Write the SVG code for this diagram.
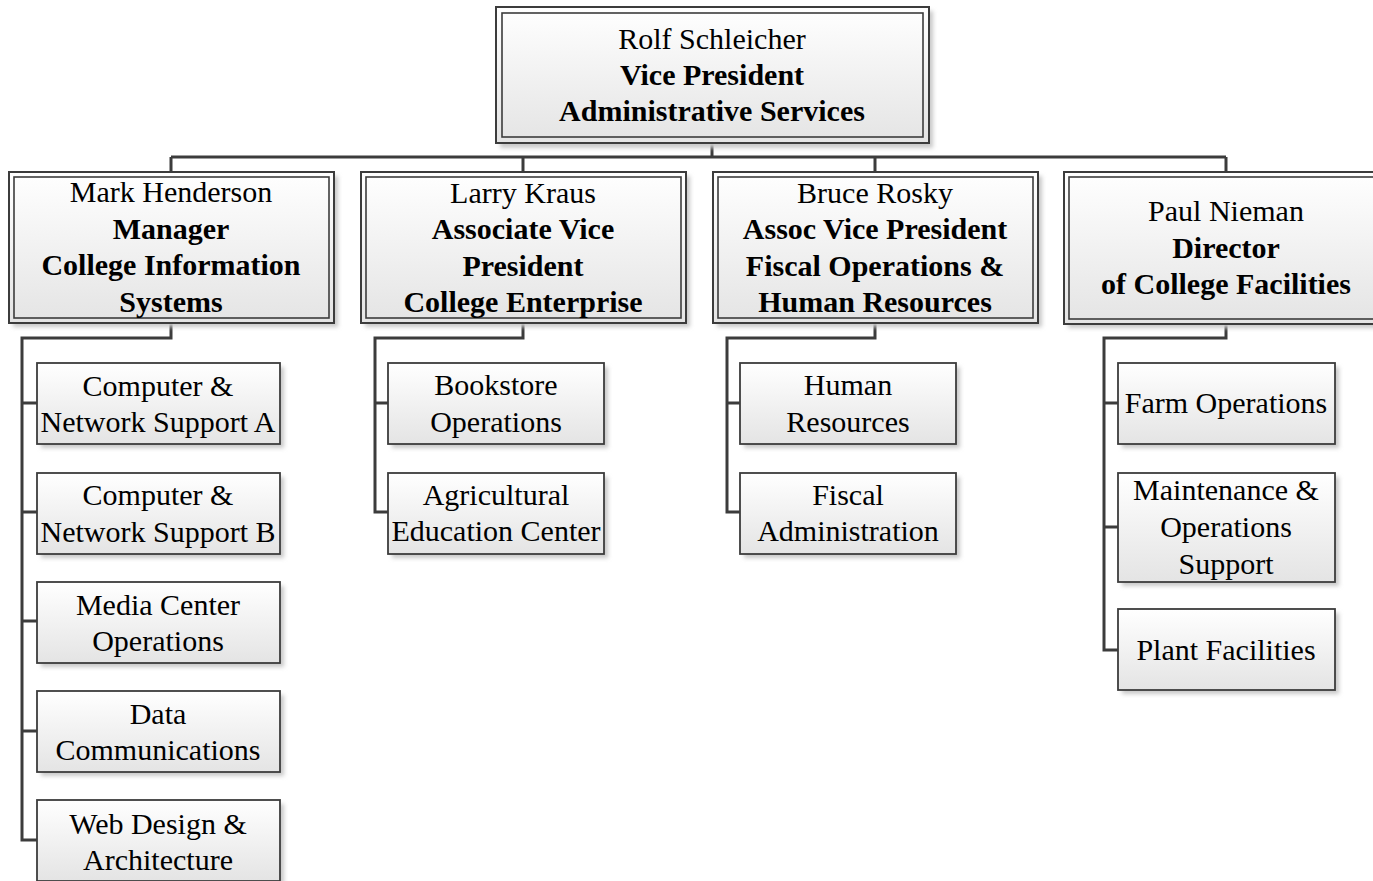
<svg xmlns="http://www.w3.org/2000/svg" width="1373" height="881" viewBox="0 0 1373 881">
<defs>
<linearGradient id="g" x1="0" y1="0" x2="0" y2="1">
<stop offset="0" stop-color="#ffffff"/>
<stop offset="1" stop-color="#e4e4e4"/>
</linearGradient>
<filter id="blur" x="-10%" y="-10%" width="120%" height="120%">
<feGaussianBlur stdDeviation="2"/>
</filter>
</defs>
<style>
.sh{fill:#c8c8c8;filter:url(#blur)}
.o{fill:url(#g);stroke:#3c3c3c;stroke-width:2}
.i{fill:none;stroke:#3c3c3c;stroke-width:1.6}
.b{fill:url(#g);stroke:#3c3c3c;stroke-width:1.8}
.c{fill:none;stroke:#3c3c3c;stroke-width:3}
</style>
<rect width="1373" height="881" fill="#fff"/>
<g id="connectors">
<path class="c" d="M712 143V157M171 157H1226M171 157V173M523 157V173M875 157V173M1226 157V173"/>
<path class="c" d="M171 322V338H22V840H37M22 403H37M22 512H37M22 621H37M22 731H37"/>
<path class="c" d="M523 322V338H375V512H388M375 403H388"/>
<path class="c" d="M875 322V338H727V512H740M727 403H740"/>
<path class="c" d="M1226 324V338H1104V650H1118M1104 403H1118M1104 527H1118"/>
</g>
<g id="n-top">
<rect class="sh" x="500" y="11" width="433" height="137"/>
<rect class="o" x="496" y="7" width="433" height="136"/>
<rect class="i" x="502" y="13" width="421" height="124"/>
<text x="712" y="49" font-family="Liberation Serif" font-size="30" text-anchor="middle">Rolf Schleicher</text>
<text x="712" y="85" font-family="Liberation Serif" font-size="30" text-anchor="middle" font-weight="bold">Vice President</text>
<text x="712" y="121" font-family="Liberation Serif" font-size="30" text-anchor="middle" font-weight="bold">Administrative Services</text>
</g>
<g id="n-mark">
<rect class="sh" x="13" y="176" width="325" height="151"/>
<rect class="o" x="9" y="172" width="325" height="151"/>
<rect class="i" x="14" y="177" width="315" height="141"/>
<text x="171" y="202" font-family="Liberation Serif" font-size="30" text-anchor="middle">Mark Henderson</text>
<text x="171" y="239" font-family="Liberation Serif" font-size="30" text-anchor="middle" font-weight="bold">Manager</text>
<text x="171" y="275" font-family="Liberation Serif" font-size="30" text-anchor="middle" font-weight="bold">College Information</text>
<text x="171" y="312" font-family="Liberation Serif" font-size="30" text-anchor="middle" font-weight="bold">Systems</text>
</g>
<g id="n-larry">
<rect class="sh" x="365" y="176" width="325" height="151"/>
<rect class="o" x="361" y="172" width="325" height="151"/>
<rect class="i" x="366" y="177" width="315" height="141"/>
<text x="523" y="203" font-family="Liberation Serif" font-size="30" text-anchor="middle">Larry Kraus</text>
<text x="523" y="239" font-family="Liberation Serif" font-size="30" text-anchor="middle" font-weight="bold">Associate Vice</text>
<text x="523" y="276" font-family="Liberation Serif" font-size="30" text-anchor="middle" font-weight="bold">President</text>
<text x="523" y="312" font-family="Liberation Serif" font-size="30" text-anchor="middle" font-weight="bold">College Enterprise</text>
</g>
<g id="n-bruce">
<rect class="sh" x="717" y="176" width="325" height="151"/>
<rect class="o" x="713" y="172" width="325" height="151"/>
<rect class="i" x="718" y="177" width="315" height="141"/>
<text x="875" y="203" font-family="Liberation Serif" font-size="30" text-anchor="middle">Bruce Rosky</text>
<text x="875" y="239" font-family="Liberation Serif" font-size="30" text-anchor="middle" font-weight="bold">Assoc Vice President</text>
<text x="875" y="276" font-family="Liberation Serif" font-size="30" text-anchor="middle" font-weight="bold">Fiscal Operations &amp;</text>
<text x="875" y="312" font-family="Liberation Serif" font-size="30" text-anchor="middle" font-weight="bold">Human Resources</text>
</g>
<g id="n-paul">
<rect class="sh" x="1068" y="176" width="325" height="152"/>
<rect class="o" x="1064" y="172" width="325" height="152"/>
<rect class="i" x="1069" y="177" width="315" height="142"/>
<text x="1226" y="221" font-family="Liberation Serif" font-size="30" text-anchor="middle">Paul Nieman</text>
<text x="1226" y="258" font-family="Liberation Serif" font-size="30" text-anchor="middle" font-weight="bold">Director</text>
<text x="1226" y="294" font-family="Liberation Serif" font-size="30" text-anchor="middle" font-weight="bold">of College Facilities</text>
</g>
<g id="n-cnsa">
<rect class="sh" x="41" y="367" width="243" height="81"/>
<rect class="b" x="37" y="363" width="243" height="81"/>
<text x="158" y="396" font-family="Liberation Serif" font-size="30" text-anchor="middle">Computer &amp;</text>
<text x="158" y="432" font-family="Liberation Serif" font-size="30" text-anchor="middle">Network Support A</text>
</g>
<g id="n-cnsb">
<rect class="sh" x="41" y="477" width="243" height="81"/>
<rect class="b" x="37" y="473" width="243" height="81"/>
<text x="158" y="505" font-family="Liberation Serif" font-size="30" text-anchor="middle">Computer &amp;</text>
<text x="158" y="542" font-family="Liberation Serif" font-size="30" text-anchor="middle">Network Support B</text>
</g>
<g id="n-media">
<rect class="sh" x="41" y="586" width="243" height="81"/>
<rect class="b" x="37" y="582" width="243" height="81"/>
<text x="158" y="615" font-family="Liberation Serif" font-size="30" text-anchor="middle">Media Center</text>
<text x="158" y="651" font-family="Liberation Serif" font-size="30" text-anchor="middle">Operations</text>
</g>
<g id="n-data">
<rect class="sh" x="41" y="695" width="243" height="81"/>
<rect class="b" x="37" y="691" width="243" height="81"/>
<text x="158" y="724" font-family="Liberation Serif" font-size="30" text-anchor="middle">Data</text>
<text x="158" y="760" font-family="Liberation Serif" font-size="30" text-anchor="middle">Communications</text>
</g>
<g id="n-web">
<rect class="sh" x="41" y="804" width="243" height="81"/>
<rect class="b" x="37" y="800" width="243" height="81"/>
<text x="158" y="834" font-family="Liberation Serif" font-size="30" text-anchor="middle">Web Design &amp;</text>
<text x="158" y="870" font-family="Liberation Serif" font-size="30" text-anchor="middle">Architecture</text>
</g>
<g id="n-book">
<rect class="sh" x="392" y="367" width="216" height="81"/>
<rect class="b" x="388" y="363" width="216" height="81"/>
<text x="496" y="395" font-family="Liberation Serif" font-size="30" text-anchor="middle">Bookstore</text>
<text x="496" y="432" font-family="Liberation Serif" font-size="30" text-anchor="middle">Operations</text>
</g>
<g id="n-agri">
<rect class="sh" x="392" y="477" width="216" height="81"/>
<rect class="b" x="388" y="473" width="216" height="81"/>
<text x="496" y="505" font-family="Liberation Serif" font-size="30" text-anchor="middle">Agricultural</text>
<text x="496" y="541" font-family="Liberation Serif" font-size="30" text-anchor="middle">Education Center</text>
</g>
<g id="n-hr">
<rect class="sh" x="744" y="367" width="216" height="81"/>
<rect class="b" x="740" y="363" width="216" height="81"/>
<text x="848" y="395" font-family="Liberation Serif" font-size="30" text-anchor="middle">Human</text>
<text x="848" y="432" font-family="Liberation Serif" font-size="30" text-anchor="middle">Resources</text>
</g>
<g id="n-fiscal">
<rect class="sh" x="744" y="477" width="216" height="81"/>
<rect class="b" x="740" y="473" width="216" height="81"/>
<text x="848" y="505" font-family="Liberation Serif" font-size="30" text-anchor="middle">Fiscal</text>
<text x="848" y="541" font-family="Liberation Serif" font-size="30" text-anchor="middle">Administration</text>
</g>
<g id="n-farm">
<rect class="sh" x="1122" y="367" width="217" height="81"/>
<rect class="b" x="1118" y="363" width="217" height="81"/>
<text x="1226" y="413" font-family="Liberation Serif" font-size="30" text-anchor="middle">Farm Operations</text>
</g>
<g id="n-maint">
<rect class="sh" x="1122" y="477" width="217" height="109"/>
<rect class="b" x="1118" y="473" width="217" height="109"/>
<text x="1226" y="500" font-family="Liberation Serif" font-size="30" text-anchor="middle">Maintenance &amp;</text>
<text x="1226" y="537" font-family="Liberation Serif" font-size="30" text-anchor="middle">Operations</text>
<text x="1226" y="574" font-family="Liberation Serif" font-size="30" text-anchor="middle">Support</text>
</g>
<g id="n-plant">
<rect class="sh" x="1122" y="613" width="217" height="81"/>
<rect class="b" x="1118" y="609" width="217" height="81"/>
<text x="1226" y="660" font-family="Liberation Serif" font-size="30" text-anchor="middle">Plant Facilities</text>
</g>
</svg>
